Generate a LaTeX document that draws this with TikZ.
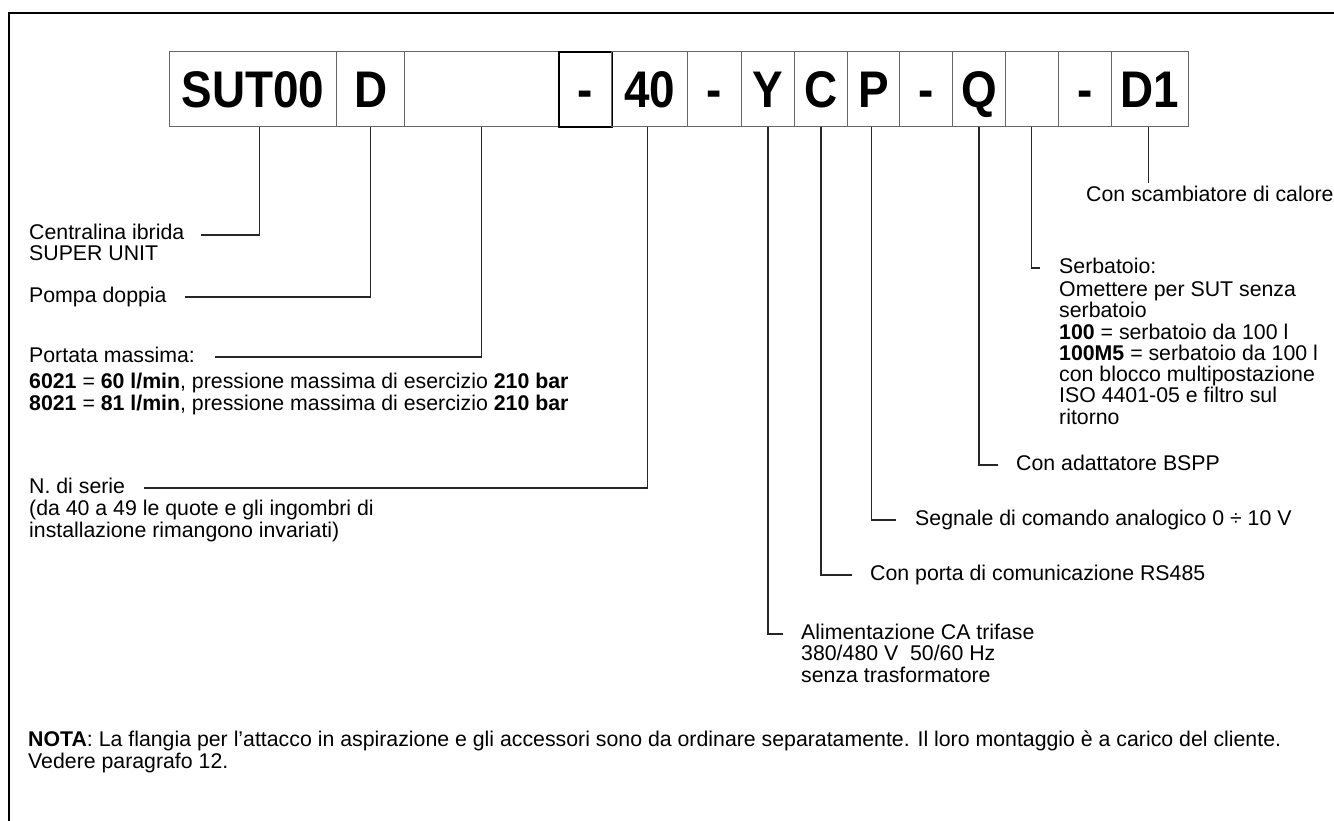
\documentclass[tikz,border=0pt]{standalone}
\usepackage{fontspec}
\setmainfont{Liberation Sans}
\newcommand{\bodyfnt}{\fontsize{21.3}{22}\selectfont}
\newcommand{\codefnt}{\fontsize{51.5}{52}\selectfont\bfseries}
\newcommand{\cd}[1]{\scalebox{0.89}[1]{#1}}
\tikzset{
  codebox/.style={draw=black!60, line width=1.1pt, inner sep=0pt, minimum height=75pt,
                  anchor=north west, font=\codefnt, text=black, text height=37pt, text depth=0pt},
  darkbox/.style={codebox, draw=black, line width=1.6pt},
  lbl/.style={anchor=west, inner sep=0pt, font=\bodyfnt, text height=15pt, text depth=5pt},
  leader/.style={draw=black!85, line width=1.2pt},
  frameline/.style={draw=black, line width=2pt}
}
\begin{document}
\begin{tikzpicture}[x=1pt,y=-1pt]
\useasboundingbox (0,0) rectangle (1334,821);
\clip (0,0) rectangle (1334,821);
\fill[white] (0,0) rectangle (1334,821);
% frame
\coordinate (fa) at (9,840);
\coordinate (fb) at (9,13);
\coordinate (fc) at (1350,13);
\draw[frameline] (fa) -- (fb) -- (fc);
% code boxes
\node[codebox, minimum width=167pt] (b1) at (169,51) {\cd{SUT00}};
\node[codebox, minimum width=68pt]  (b2) at (336,51) {\cd{D}};
\node[codebox, minimum width=154pt] (b3) at (404,51) {};
\node[darkbox, minimum width=53pt]  (b4) at (558,51) {\cd{-}};
\node[codebox, minimum width=76pt]  (b5) at (611,51) {\cd{40}};
\node[codebox, minimum width=54pt]  (b6) at (687,51) {\cd{-}};
\node[codebox, minimum width=53pt]  (b7) at (741,51) {\cd{Y}};
\node[codebox, minimum width=53pt]  (b8) at (794,51) {\cd{C}};
\node[codebox, minimum width=52pt]  (b9) at (847,51) {\cd{P}};
\node[codebox, minimum width=53pt]  (b10) at (899,51) {\cd{-}};
\node[codebox, minimum width=53pt]  (b11) at (952,51) {\cd{Q}};
\node[codebox, minimum width=53pt]  (b12) at (1005,51) {};
\node[codebox, minimum width=53pt]  (b13) at (1058,51) {\cd{-}};
\node[codebox, minimum width=77pt]  (b14) at (1111,51) {\cd{D1}};
% left labels
\node[lbl] (t1) at (29,235) {Centralina ibrida};
\node[lbl] (t1b) at (29,256) {SUPER UNIT};
\node[lbl] (t2) at (29,297) {Pompa doppia};
\node[lbl] (t3) at (29,357) {Portata massima:};
\node[lbl] (t3b) at (29,383) {\textbf{6021} = \textbf{60 l/min}, pressione massima di esercizio \textbf{210 bar}};
\node[lbl] (t3c) at (29,405) {\textbf{8021} = \textbf{81 l/min}, pressione massima di esercizio \textbf{210 bar}};
\node[lbl] (t4) at (29,488) {N. di serie};
\node[lbl] (t4b) at (29,510) {(da 40 a 49 le quote e gli ingombri di};
\node[lbl] (t4c) at (29,532) {installazione rimangono invariati)};
% right labels
\node[lbl] (r1) at (1086,197) {Con scambiatore di calore};
\node[lbl] (r2) at (1059,268) {Serbatoio:};
\node[lbl] (r2a) at (1059,291) {Omettere per SUT senza};
\node[lbl] (r2b) at (1059,312) {serbatoio};
\node[lbl] (r2c) at (1059,334) {\textbf{100} = serbatoio da 100 l};
\node[lbl] (r2d) at (1059,355) {\textbf{100M5} = serbatoio da 100 l};
\node[lbl] (r2e) at (1059,376) {con blocco multipostazione};
\node[lbl] (r2f) at (1059,397) {ISO 4401-05 e filtro sul};
\node[lbl] (r2g) at (1059,419) {ritorno};
\node[lbl] (r3) at (1016,465) {Con adattatore BSPP};
\node[lbl] (r4) at (915,520) {Segnale di comando analogico 0 ÷ 10 V};
\node[lbl] (r5) at (870,575) {Con porta di comunicazione RS485};
\node[lbl] (r6) at (801,634) {Alimentazione CA trifase};
\node[lbl] (r6b) at (801,655) {380/480 V\ \ 50/60 Hz};
\node[lbl] (r6c) at (801,677) {senza trasformatore};
% note
\node[lbl] (n1) at (28,741) {\textbf{NOTA}: La flangia per l’attacco in aspirazione e gli accessori sono da ordinare separatamente. Il loro montaggio è a carico del cliente.};
\node[lbl] (n2) at (28,763) {Vedere paragrafo 12.};
% leaders left
\draw[leader] ([xshift=6.5pt]b1.south) |- ([xshift=16pt]t1.east);
\draw[leader] (b2.south) |- ([xshift=18pt]t2.east);
\draw[leader] (b3.south) |- ([xshift=20pt]t3.east);
\draw[leader] ([xshift=-2pt]b5.south) |- ([xshift=19pt]t4.east);
% leaders right
\path (b14.south) ++(-1.5,56) coordinate (e14);
\draw[leader] ([xshift=-1.5pt]b14.south) -- (e14);
\draw[leader] ([xshift=-0.5pt]b12.south) |- ([xshift=-19pt]r2.west);
\draw[leader] (b11.south) |- ([xshift=-18pt]r3.west);
\draw[leader] ([xshift=-2pt]b9.south) |- ([xshift=-19pt]r4.west);
\draw[leader] (b8.south) |- ([xshift=-18pt]r5.west);
\draw[leader] (b7.south) |- ([xshift=-18pt]r6.west);
\end{tikzpicture}
\end{document}
